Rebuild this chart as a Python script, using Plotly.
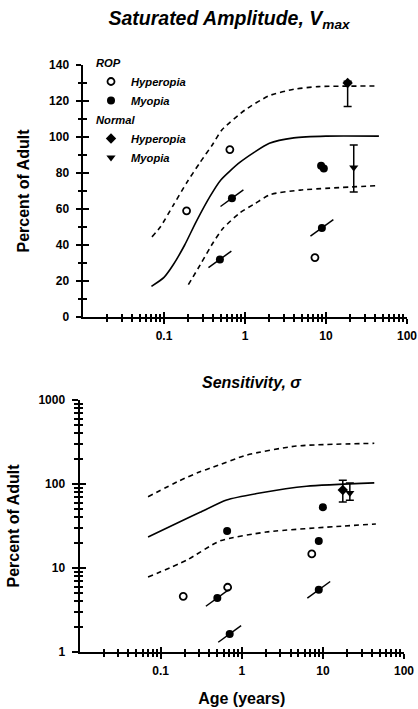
import plotly.graph_objects as go

# ---------------- Top panel: saturated amplitude (percent of adult) ----------------
amp_mean_age = [0.07, 0.1, 0.13, 0.18, 0.25, 0.37, 0.5, 0.87, 2.0, 4.0, 10, 45]
amp_mean = [17, 22, 29, 40, 53, 67, 76, 86, 96.5, 99.5, 100.5, 100.5]
amp_upper_age = [0.071, 0.09, 0.13, 0.19, 0.28, 0.4, 0.52, 1.0, 2.0, 4.0, 8.0, 44]
amp_upper = [44.5, 50, 62, 74.5, 86, 96, 104, 115, 123, 126.5, 128, 128.3]
amp_lower_age = [0.2, 0.28, 0.4, 0.53, 0.87, 1.33, 2.04, 4.8, 44]
amp_lower = [18, 29, 41, 49, 58, 63, 68, 70.5, 73]

amp_rop_hyp_age = [0.19, 0.65, 7.3]
amp_rop_hyp = [59, 93, 33]
amp_rop_myo_age = [0.49, 0.69, 8.9, 8.7, 9.4]
amp_rop_myo = [32, 66, 49.5, 84, 82.5]
amp_rop_myo_slash = [True, True, True, False, False]

amp_norm_hyp_age = [18.5]
amp_norm_hyp = [130]
amp_norm_hyp_err_plus = [1]
amp_norm_hyp_err_minus = [13]
amp_norm_myo_age = [22]
amp_norm_myo = [83]
amp_norm_myo_err_plus = [12.5]
amp_norm_myo_err_minus = [13.5]

# ---------------- Bottom panel: sensitivity (percent of adult) ----------------
sens_mean_age = [0.07, 0.173, 0.306, 0.65, 1.67, 6.3, 43]
sens_mean = [23.4, 35.6, 46, 64.5, 78, 94, 103]
sens_upper_age = [0.07, 0.173, 0.306, 0.44, 1.15, 4.7, 43]
sens_upper = [70.6, 110, 140, 158, 221, 283, 305]
sens_lower_age = [0.07, 0.21, 0.54, 2.0, 18, 45]
sens_lower = [7.8, 12.4, 21, 26.8, 31.6, 33.4]

sens_rop_hyp_age = [0.19, 0.67, 7.3]
sens_rop_hyp = [4.6, 5.9, 14.7]
sens_rop_myo_age = [0.50, 0.66, 0.71, 8.9, 8.9, 10]
sens_rop_myo = [4.4, 27.6, 1.64, 21, 5.5, 53]
sens_rop_myo_slash = [True, False, True, False, True, False]

sens_norm_hyp_age = [17.6]
sens_norm_hyp = [85]
sens_norm_hyp_err_plus = [26]
sens_norm_hyp_err_minus = [24]
sens_norm_myo_age = [21.5]
sens_norm_myo = [78]
sens_norm_myo_err_plus = [25]
sens_norm_myo_err_minus = [14]

# ticks
x_major = [0.1, 1, 10, 100]
x_major_text = ["0.1", "1", "10", "100"]
x_minor = [m * d for d in [0.01, 0.1, 1, 10] for m in range(2, 10)]
amp_ticks = [0, 20, 40, 60, 80, 100, 120, 140]
sens_ticks = [1, 10, 100, 1000]
sens_minor = [m * d for d in [1, 10, 100] for m in range(2, 10)]

W, H = 418, 709


def px(x):
    return x / W


def py(y):
    return 1 - y / H


FONT = "Liberation Sans"
TICKFONT = dict(family=FONT, size=12, color="black", weight="bold")
LEGFONT = dict(family=FONT, size=11.2, color="black", weight="bold", style="italic")

fig = go.Figure()


def curves(xa, ya, ages_vals):
    for (ages, vals, dash) in ages_vals:
        fig.add_trace(go.Scatter(x=ages, y=vals, mode="lines", xaxis=xa, yaxis=ya,
                                 line=dict(color="black", width=1.6, dash=dash, shape="spline", smoothing=0.6),
                                 showlegend=False, hoverinfo="skip"))


curves("x", "y", [(amp_mean_age, amp_mean, "solid"), (amp_upper_age, amp_upper, "5px,4px"),
                  (amp_lower_age, amp_lower, "5px,4px")])
curves("x2", "y2", [(sens_mean_age, sens_mean, "solid"), (sens_upper_age, sens_upper, "5px,4px"),
                    (sens_lower_age, sens_lower, "5px,4px")])


def points(xa, ya, show, hyp_age, hyp, myo_age, myo, slash, nh_age, nh, nh_p, nh_m, nm_age, nm, nm_p, nm_m):
    sa = [a for a, s in zip(myo_age, slash) if s]
    sv = [v for v, s in zip(myo, slash) if s]
    fig.add_trace(go.Scatter(x=sa, y=sv, mode="markers", xaxis=xa, yaxis=ya, showlegend=False,
                             marker=dict(symbol="line-ne", size=20, angle=9,
                                         line=dict(color="black", width=1.5))))
    fig.add_trace(go.Scatter(x=hyp_age, y=hyp, mode="markers", xaxis=xa, yaxis=ya, name="Hyperopia",
                             legendgroup="rop", legendgrouptitle_text="ROP", showlegend=show,
                             marker=dict(symbol="circle-open", size=7, color="black",
                                         line=dict(color="black", width=1.8))))
    fig.add_trace(go.Scatter(x=myo_age, y=myo, mode="markers", xaxis=xa, yaxis=ya, name="Myopia",
                             legendgroup="rop", showlegend=show,
                             marker=dict(symbol="circle", size=8, color="black")))
    fig.add_trace(go.Scatter(x=nh_age, y=nh, mode="markers", xaxis=xa, yaxis=ya, name="Hyperopia",
                             legendgroup="normal", legendgrouptitle_text="Normal", showlegend=show,
                             marker=dict(symbol="diamond", size=8, color="black"),
                             error_y=dict(type="data", symmetric=False, array=nh_p, arrayminus=nh_m,
                                          color="black", thickness=1.5, width=4)))
    fig.add_trace(go.Scatter(x=nm_age, y=nm, mode="markers", xaxis=xa, yaxis=ya, name="Myopia",
                             legendgroup="normal", showlegend=show,
                             marker=dict(symbol="triangle-down", size=8, color="black"),
                             error_y=dict(type="data", symmetric=False, array=nm_p, arrayminus=nm_m,
                                          color="black", thickness=1.5, width=4)))


points("x", "y", True, amp_rop_hyp_age, amp_rop_hyp, amp_rop_myo_age, amp_rop_myo, amp_rop_myo_slash,
       amp_norm_hyp_age, amp_norm_hyp, amp_norm_hyp_err_plus, amp_norm_hyp_err_minus,
       amp_norm_myo_age, amp_norm_myo, amp_norm_myo_err_plus, amp_norm_myo_err_minus)
points("x2", "y2", False, sens_rop_hyp_age, sens_rop_hyp, sens_rop_myo_age, sens_rop_myo, sens_rop_myo_slash,
       sens_norm_hyp_age, sens_norm_hyp, sens_norm_hyp_err_plus, sens_norm_hyp_err_minus,
       sens_norm_myo_age, sens_norm_myo, sens_norm_myo_err_plus, sens_norm_myo_err_minus)

# invisible copies of the mean curves carry the overlay axes that draw the inner half of the ticks
for xa, ya, ages, vals in [("x3", "y", amp_mean_age, amp_mean), ("x", "y3", amp_mean_age, amp_mean),
                           ("x4", "y2", sens_mean_age, sens_mean), ("x2", "y4", sens_mean_age, sens_mean)]:
    fig.add_trace(go.Scatter(x=ages, y=vals, mode="lines", xaxis=xa, yaxis=ya, opacity=0,
                             line=dict(width=0), showlegend=False, hoverinfo="skip"))

top_dom = [py(317), py(65)]
bot_dom = [py(652), py(400)]
x1_dom = [px(83), px(407)]
x2_dom = [px(79.5), px(404)]


def xaxis(domain, anchor, title=None):
    d = dict(type="log", range=[-2, 2], domain=domain, anchor=anchor, automargin=False,
             tickmode="array", tickvals=x_major, ticktext=x_major_text,
             ticks="outside", ticklen=5, tickwidth=1.6, tickcolor="black",
             showline=True, linewidth=2, linecolor="black", showgrid=False, zeroline=False,
             tickfont=TICKFONT, ticklabelstandoff=2,
             minor=dict(tickmode="array", tickvals=x_minor, ticks="outside", ticklen=3,
                        tickwidth=1.5, tickcolor="black", showgrid=False))
    if title:
        d["title"] = dict(text=title, font=dict(family=FONT, size=16, color="black", weight="bold"),
                          standoff=15)
    return d


def xinner(over, anchor):
    return dict(type="log", range=[-2, 2], overlaying=over, anchor=anchor, automargin=False,
                tickmode="array", tickvals=x_major, ticks="inside", ticklen=5, tickwidth=1.6,
                tickcolor="black", showticklabels=False, showline=False, showgrid=False, zeroline=False,
                minor=dict(tickmode="array", tickvals=x_minor, ticks="inside", ticklen=3,
                           tickwidth=1.5, tickcolor="black", showgrid=False))


ytitle = dict(text="Percent of Adult", font=dict(family=FONT, size=16, color="black", weight="bold"),
              standoff=15)

fig.update_layout(
    width=W, height=H, margin=dict(l=0, r=0, t=0, b=0, autoexpand=False),
    paper_bgcolor="white", plot_bgcolor="white",
    font=dict(family=FONT, color="black"),
    title=dict(text="Saturated Amplitude, V<sub>max</sub>", x=px(229), xanchor="center",
               y=py(18), yanchor="middle",
               font=dict(family=FONT, size=19.5, color="black", weight="bold", style="italic")),
    xaxis=xaxis(x1_dom, "y"),
    xaxis2=xaxis(x2_dom, "y2", "Age (years)"),
    xaxis3=xinner("x", "y"),
    xaxis4=xinner("x2", "y2"),
    yaxis=dict(range=[0, 140], domain=top_dom, anchor="x", automargin=False, tickmode="array",
               tickvals=amp_ticks,
               ticks="outside", ticklen=5.5, tickwidth=1.6, tickcolor="black",
               showline=True, linewidth=2, linecolor="black", showgrid=False, zeroline=False,
               tickfont=TICKFONT, ticklabelstandoff=4, title=ytitle,
               minor=dict(dtick=10, ticks="outside", ticklen=3.5, tickwidth=1.5, tickcolor="black",
                          showgrid=False)),
    yaxis3=dict(range=[0, 140], overlaying="y", anchor="x", automargin=False, tickmode="array",
                tickvals=amp_ticks,
                ticks="inside", ticklen=5.5, tickwidth=1.6, tickcolor="black", showticklabels=False,
                showline=False, showgrid=False, zeroline=False,
                minor=dict(dtick=10, ticks="inside", ticklen=3.5, tickwidth=1.5, tickcolor="black",
                           showgrid=False)),
    yaxis2=dict(type="log", range=[0, 3], domain=bot_dom, anchor="x2", automargin=False,
                tickmode="array",
                tickvals=sens_ticks, ticks="outside", ticklen=6, tickwidth=1.6, tickcolor="black",
                showline=True, linewidth=2, linecolor="black", showgrid=False, zeroline=False,
                tickfont=TICKFONT, ticklabelstandoff=4, title=ytitle,
                minor=dict(tickmode="array", tickvals=sens_minor, ticks="outside", ticklen=3.5,
                           tickwidth=1.5, tickcolor="black", showgrid=False)),
    yaxis4=dict(type="log", range=[0, 3], overlaying="y2", anchor="x2", automargin=False,
                tickmode="array",
                tickvals=sens_ticks, ticks="inside", ticklen=6, tickwidth=1.6, tickcolor="black",
                showticklabels=False, showline=False, showgrid=False, zeroline=False,
                minor=dict(tickmode="array", tickvals=sens_minor, ticks="inside", ticklen=3.5,
                           tickwidth=1.5, tickcolor="black", showgrid=False)),
    legend=dict(x=px(91), y=py(48), xanchor="left", yanchor="top", font=LEGFONT,
                grouptitlefont=LEGFONT, tracegroupgap=0, bgcolor="rgba(0,0,0,0)",
                itemwidth=30, traceorder="grouped"),
    annotations=[dict(text="Sensitivity, σ", x=px(252), y=py(382), xref="paper", yref="paper",
                      xanchor="center", yanchor="middle", showarrow=False,
                      font=dict(family=FONT, size=16, color="black", weight="bold", style="italic"))],
)

# remove the page's default body margin so the 418x709 figure fills the window exactly
fig.write_html("out.html",
               config={"displayModeBar": False},
               post_script="document.body.style.margin='0';"
                           "document.documentElement.style.overflow='hidden';")
